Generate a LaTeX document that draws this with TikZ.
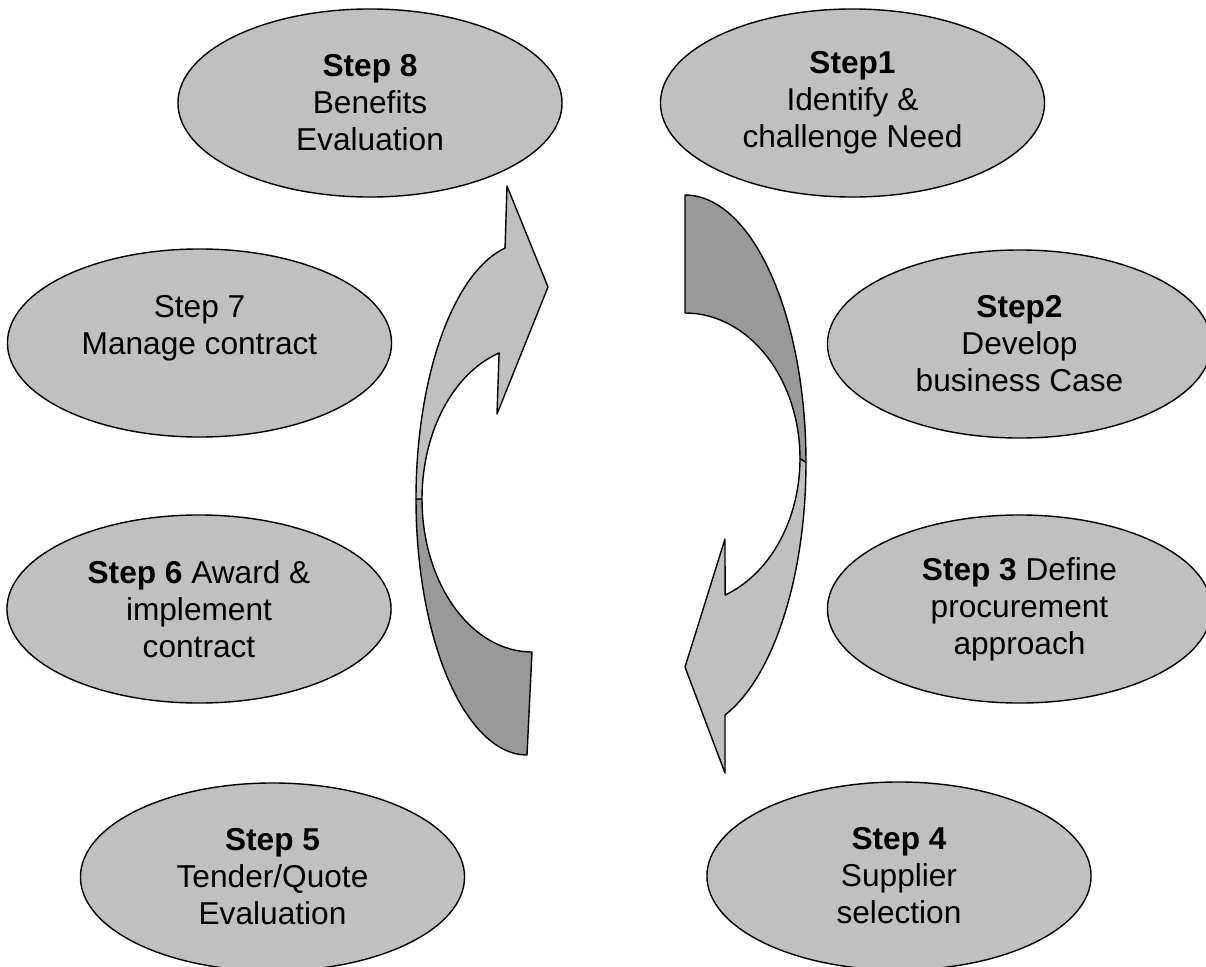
\documentclass[tikz,border=0pt]{standalone}
\usepackage{fontspec}
\setmainfont{Liberation Sans}
\usetikzlibrary{shapes.geometric}
\definecolor{StepGray}{HTML}{C0C0C0}
\definecolor{BackGray}{HTML}{999999}

\tikzset{
  stepnode/.style={ellipse,draw=black,fill=StepGray,inner sep=0pt,
    minimum width=9.6cm,minimum height=4.7cm,align=center},
  frontband/.style={draw=black,fill=StepGray,line join=round},
  backband/.style={draw=black,fill=BackGray,line join=round},
  arcplot/.style={smooth,samples=40,variable=\t}
}

\begin{document}
\begin{tikzpicture}[x=0.025cm,y=-0.025cm,line width=1pt,font=\fontsize{22.5}{26.3}\selectfont]
  \useasboundingbox (0,0) rectangle (1206,967);

  \node[stepnode] (s8) at (370,103) {\textbf{Step 8}\\Benefits\\Evaluation};
  \node[stepnode] (s1) at (852.5,103) {\textbf{Step1}\\Identify \&\\challenge Need};
  \node[stepnode] (s7) at (199.5,343) {Step 7\\Manage contract\\\mbox{}};
  \node[stepnode] (s2) at (1019.5,344) {\textbf{Step2}\\Develop\\business Case};
  \node[stepnode] (s6) at (199,609) {\textbf{Step 6} Award \&\\implement\\contract};
  \node[stepnode] (s3) at (1019.5,609) {\textbf{Step 3} Define\\procurement\\approach};
  \node[stepnode] (s5) at (272.5,877) {\textbf{Step 5}\\Tender/Quote\\Evaluation};
  \node[stepnode] (s4) at (899,876) {\textbf{Step 4}\\Supplier\\selection};

  \begin{scope}
    \draw[backband] plot[arcplot,domain=90:180] ({527+111*cos(\t)},{499+256*sin(\t)})
      -- plot[arcplot,domain=180:90] ({532+110*cos(\t)},{499+153*sin(\t)}) -- cycle;
    \draw[frontband] plot[arcplot,domain=180:258.6] ({527+111*cos(\t)},{499+256*sin(\t)})
      -- (507,186) -- (548,287) -- (497,414)
      -- plot[arcplot,domain=252.6:180] ({532+110*cos(\t)},{499+153*sin(\t)}) -- cycle;
  \end{scope}

  \begin{scope}
    \draw[backband] plot[arcplot,domain=270:360] ({685+121*cos(\t)},{462.5+267.5*sin(\t)})
      -- plot[arcplot,domain=360:270] ({685+115*cos(\t)},{458.6+145.6*sin(\t)}) -- cycle;
    \draw[frontband] plot[arcplot,domain=0:70.7] ({685+121*cos(\t)},{462.5+267.5*sin(\t)})
      -- (725,773) -- (685,667) -- (725,539)
      -- plot[arcplot,domain=69.6:0] ({685+115*cos(\t)},{458.6+145.6*sin(\t)}) -- cycle;
  \end{scope}
\end{tikzpicture}
\end{document}
